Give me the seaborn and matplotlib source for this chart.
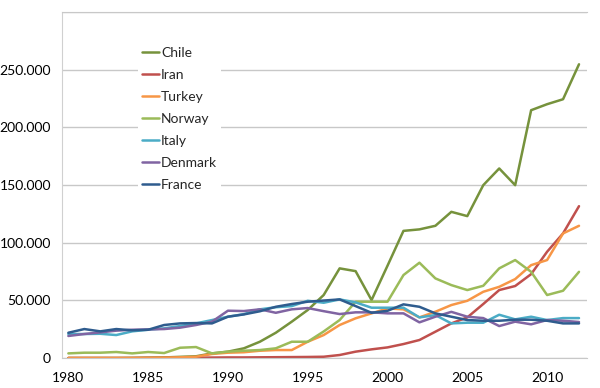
import pandas as pd
import seaborn as sns
import matplotlib.pyplot as plt
from matplotlib.ticker import FuncFormatter

years = list(range(1980, 2013))

chile = [0, 0, 0, 0, 100, 300, 500, 1000, 1500, 4000, 5500, 8400, 14100, 21900,
         31500, 41600, 54600, 77700, 75300, 50200, 80000, 110200, 111500, 114600,
         126700, 123000, 149800, 164300, 149800, 214800, 220000, 224300, 254600]
iran = [0, 0, 0, 0, 0, 100, 100, 200, 300, 400, 500, 500, 600, 700,
        800, 900, 1100, 2600, 5500, 7500, 9200, 12100, 15600, 22800,
        30000, 35200, 46800, 58900, 62400, 72700, 92100, 108000, 131600]
turkey = [0, 0, 0, 0, 0, 100, 300, 600, 1100, 3500, 4600, 5000, 6300, 6900,
          6900, 14100, 19900, 28600, 34400, 38700, 43000, 42200, 35200, 40100,
          45900, 49600, 57400, 61700, 68400, 80500, 84900, 108000, 114600]
norway = [4000, 4600, 4600, 5200, 4000, 5200, 4300, 8900, 9500, 4000, 5500, 6300,
          6900, 8400, 14100, 14100, 23000, 32900, 48800, 48800, 48800, 71900,
          82600, 69000, 63200, 58900, 62600, 77700, 84900, 74700, 54600, 58300, 74700]
italy = [20800, 20800, 21000, 19900, 23100, 24500, 25700, 27700, 30000, 32900,
         35800, 38000, 42200, 44000, 45000, 49600, 47900, 50800, 48200, 43600,
         43600, 43600, 35200, 37200, 30000, 30600, 30600, 37500, 33500, 35800,
         32900, 34600, 34600]
denmark = [19100, 20800, 22200, 23700, 24500, 24800, 25100, 26300, 28600, 31500,
           41000, 40700, 42200, 39200, 42200, 43300, 40600, 38100, 39600, 39600,
           38700, 38700, 30900, 35800, 40000, 35800, 34600, 27700, 31500, 29200,
           32900, 32300, 31200]
france = [21900, 25100, 23100, 25100, 24000, 24500, 28600, 30000, 30300, 30000,
          35800, 37800, 40500, 44400, 46800, 48800, 49800, 50800, 45000, 39200,
          40900, 46500, 44400, 38700, 35800, 32900, 32300, 32300, 33200, 33200,
          32300, 30000, 30000]

countries = ['Chile', 'Iran', 'Turkey', 'Norway', 'Italy', 'Denmark', 'France']
series = [chile, iran, turkey, norway, italy, denmark, france]
colors = ['#76923C', '#C0504D', '#F79646', '#9BBB59', '#4BACC6', '#8064A2', '#2F5C8E']

df = pd.concat([pd.DataFrame({'year': years, 'value': s, 'country': c})
                for c, s in zip(countries, series)])

sns.set_style("white")
plt.rcParams['font.family'] = ['Lato', 'DejaVu Sans']

fig = plt.figure(figsize=(6, 3.88), dpi=100)
ax = fig.add_axes([0.1033, 0.0773, 0.875, 0.892])

sns.lineplot(data=df, x='year', y='value', hue='country', hue_order=countries,
             palette=colors, linewidth=1.8, ax=ax)

ax.set_xlim(1979.6, 2012.5)
ax.set_ylim(0, 300000)
ax.set_xticks(range(1980, 2011, 5))
ax.set_yticks(range(0, 300001, 50000))
ax.yaxis.set_major_formatter(FuncFormatter(
    lambda v, p: '' if v > 250000 else ('0' if v == 0 else f'{int(v):,}'.replace(',', '.'))))
ax.grid(axis='y', color='#C8C8C8', linewidth=1)
ax.set_axisbelow(True)
ax.set_xlabel('')
ax.set_ylabel('')
ax.tick_params(axis='y', length=0, labelsize=10, colors='black', pad=8)
ax.tick_params(axis='x', length=0, labelsize=10, colors='black', pad=10)
ax.spines['right'].set_visible(False)
ax.spines['top'].set_color('#C8C8C8')
ax.spines['left'].set_color('#D0D0D0')
ax.spines['bottom'].set_color('#C8C8C8')

leg = ax.legend(loc='upper left', bbox_to_anchor=(0.145, 0.91), frameon=True,
                fontsize=10, handlelength=1.2, handletextpad=0.15,
                labelspacing=0.72, borderpad=0.3, borderaxespad=0)
leg.get_frame().set_facecolor('white')
leg.get_frame().set_edgecolor('none')
leg.get_frame().set_alpha(1)
for line in leg.get_lines():
    line.set_linewidth(1.8)

plt.savefig('out.png', dpi=100)
